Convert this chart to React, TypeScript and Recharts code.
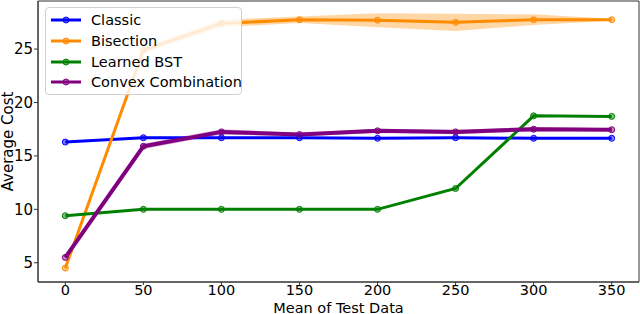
import React from "react";
import {
  ComposedChart,
  Line,
  Area,
  XAxis,
  YAxis,
  ReferenceArea,
} from "recharts";

// x positions (mean of test data)
const xValues = [0, 50, 100, 150, 200, 250, 300, 350];

// average cost per method
const classic = [16.3, 16.7, 16.7, 16.7, 16.65, 16.7, 16.65, 16.65];
const bisection = [4.5, 24.9, 27.4, 27.75, 27.7, 27.5, 27.75, 27.75];
const learnedBst = [9.4, 10.0, 10.0, 10.0, 10.0, 11.95, 18.75, 18.7];
const convex = [5.5, 15.9, 17.25, 17.0, 17.35, 17.25, 17.5, 17.45];

// spread of the runs (half width of shaded band)
const classicSpread = [0.05, 0.05, 0.05, 0.05, 0.05, 0.05, 0.05, 0.05];
const bisectionSpread = [0.1, 0.3, 0.35, 0.3, 0.65, 0.8, 0.5, 0.1];
const learnedSpread = [0.05, 0.05, 0.05, 0.05, 0.05, 0.05, 0.05, 0.05];
const convexSpread = [0.1, 0.25, 0.25, 0.15, 0.2, 0.2, 0.2, 0.15];

const xTicks = [0, 50, 100, 150, 200, 250, 300, 350];
const yTicks = [5, 10, 15, 20, 25];

const series = [
  { key: "classic", name: "Classic", color: "#0000ff", values: classic, spread: classicSpread, width: 3 },
  { key: "bisection", name: "Bisection", color: "#ff8c00", values: bisection, spread: bisectionSpread, width: 3 },
  { key: "learned", name: "Learned BST", color: "#008000", values: learnedBst, spread: learnedSpread, width: 3 },
  { key: "convex", name: "Convex Combination", color: "#800080", values: convex, spread: convexSpread, width: 4 },
];

const rows = xValues.map((x, i) => {
  const row: any = { x };
  series.forEach((s) => {
    row[s.key] = s.values[i];
    row[s.key + "Band"] = [s.values[i] - s.spread[i], s.values[i] + s.spread[i]];
  });
  return row;
});

const FONT = "'DejaVu Sans', sans-serif";

// matplotlib-style legend, semi transparent so lines behind it fade
function LegendBox() {
  return (
    <div
      style={{
        position: "absolute",
        left: 45,
        top: 7,
        zIndex: 20,
        width: 197,
        height: 88,
        backgroundColor: "rgba(255,255,255,0.82)",
        border: "1px solid #d0d0d0",
        borderRadius: 4,
        fontFamily: FONT,
        fontSize: 14.5,
        color: "#000",
        paddingTop: 2,
        boxSizing: "border-box",
        whiteSpace: "nowrap",
      }}
    >
      {series.map((s) => (
        <div key={s.key} style={{ display: "flex", alignItems: "center", height: 20.7 }}>
          <svg width={44} height={12} style={{ marginLeft: 1, flex: "none" }}>
            <line x1={4} y1={6} x2={34} y2={6} stroke={s.color} strokeWidth={3} />
            <circle cx={19} cy={6} r={3} fill={s.color} fillOpacity={0.5} stroke={s.color} />
          </svg>
          <span style={{ lineHeight: "20px" }}>{s.name}</span>
        </div>
      ))}
    </div>
  );
}

function yLabel(props: any) {
  const vb = props.viewBox || { x: 0, y: 1, width: 38, height: 281 };
  const cx = 12.5;
  const cy = vb.y + vb.height / 2;
  return (
    <text
      x={cx}
      y={cy}
      transform={`rotate(-90, ${cx}, ${cy})`}
      textAnchor="middle"
      fontFamily={FONT}
      fontSize={15}
      fill="#000"
    >
      Average Cost
    </text>
  );
}

function xLabel(props: any) {
  const vb = props.viewBox || { x: 38, y: 282, width: 601, height: 32 };
  return (
    <text
      x={vb.x + vb.width / 2}
      y={312.5}
      textAnchor="middle"
      fontFamily={FONT}
      fontSize={14.5}
      fill="#000"
    >
      Mean of Test Data
    </text>
  );
}

export default function App() {
  return (
    <div style={{ position: "absolute", left: 0, top: 0, width: 640, height: 314, background: "#fff" }}>
      <ComposedChart
        width={640}
        height={314}
        data={rows}
        margin={{ top: 1, right: 1, bottom: 0, left: 0 }}
      >
        <XAxis
          dataKey="x"
          type="number"
          domain={[-17.5, 367.5]}
          ticks={xTicks}
          allowDataOverflow
          height={32}
          tickSize={3}
          tickMargin={0}
          stroke="#333"
          tick={{ fill: "#000", fontSize: 14.5, fontFamily: FONT }}
          label={xLabel}
        />
        <YAxis
          type="number"
          domain={[3.2, 29.5]}
          ticks={yTicks}
          allowDataOverflow
          width={38}
          tickSize={4}
          tickMargin={1}
          stroke="#333"
          tick={{ fill: "#000", fontSize: 15, fontFamily: FONT }}
          label={yLabel}
        />
        <ReferenceArea
          x1={-17.5}
          x2={367.5}
          y1={3.2}
          y2={29.5}
          fill="none"
          stroke="#333"
          strokeWidth={1}
          fillOpacity={0}
          strokeOpacity={1}
        />
        {series.map((s) => [
          <Area
            key={s.key + "Band"}
            dataKey={s.key + "Band"}
            type="linear"
            stroke="none"
            fill={s.color}
            fillOpacity={0.35}
            isAnimationActive={false}
            activeDot={false}
            legendType="none"
          />,
          <Line
            key={s.key}
            dataKey={s.key}
            name={s.name}
            type="linear"
            stroke={s.color}
            strokeWidth={s.width}
            dot={{ r: 3, fill: s.color, fillOpacity: 0.5, stroke: s.color, strokeWidth: 1 }}
            activeDot={false}
            isAnimationActive={false}
          />,
        ])}
      </ComposedChart>
      <LegendBox />
    </div>
  );
}
